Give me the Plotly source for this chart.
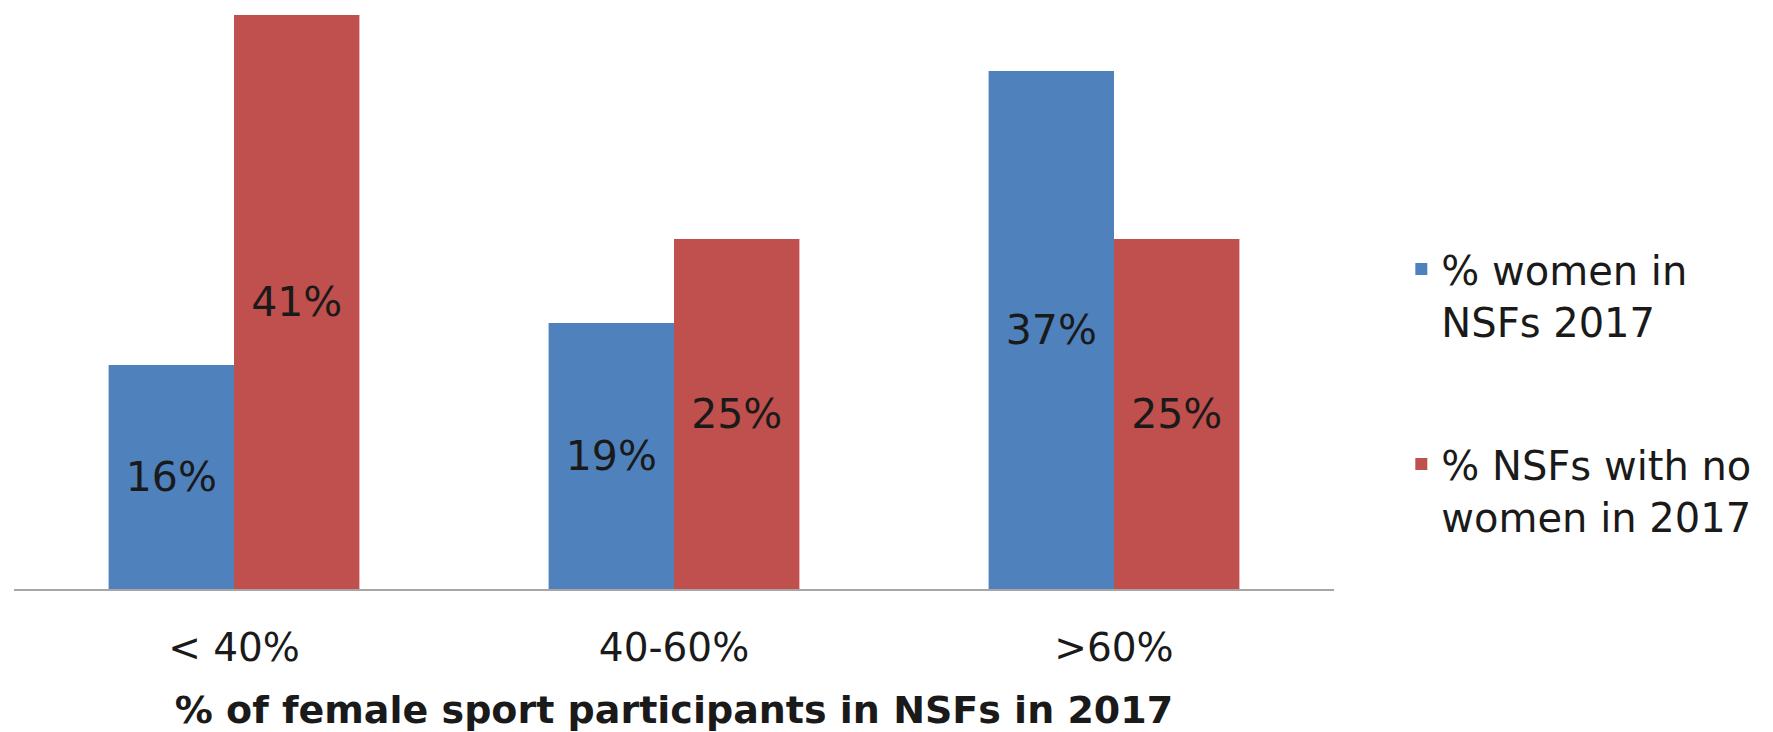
import plotly.graph_objects as go

categories = ["< 40%", "40-60%", ">60%"]
women_pct = [16, 19, 37]
no_women_pct = [41, 25, 25]
series_names = ["% women in<br>NSFs 2017", "% NSFs with no<br>women in 2017"]
x_title = "% of female sport participants in NSFs in 2017"

BLUE = "#4F81BD"
RED = "#C0504D"
FONT = "DejaVu Sans"

fig = go.Figure()
for name, vals, col, grp in [(series_names[0], women_pct, BLUE, "a"),
                             (series_names[1], no_women_pct, RED, "b")]:
    fig.add_trace(go.Bar(
        x=categories, y=vals, name=name, marker_color=col,
        marker_line_width=0, legendgroup=grp,
        texttemplate="%{y}%", textposition="inside",
        insidetextanchor="middle", textangle=0,
        textfont=dict(family=FONT, size=41, color="#1a1a1a"),
    ))

fig.update_layout(
    width=1765, height=724,
    margin=dict(l=6, r=439, t=7, b=143, autoexpand=False),
    paper_bgcolor="white", plot_bgcolor="white",
    barmode="group", bargap=0.43, bargroupgap=0,
    font=dict(family=FONT, color="#1a1a1a"),
    showlegend=True,
    legend=dict(
        x=1.051, xanchor="left", y=0.614, yanchor="top",
        font=dict(family=FONT, size=40, color="#1a1a1a"),
        tracegroupgap=88, valign="top",
        bgcolor="rgba(0,0,0,0)",
    ),
    xaxis=dict(
        showline=True, linecolor="#A6A6A6", linewidth=2,
        ticks="", showgrid=False, zeroline=False, automargin=False,
        tickfont=dict(family=FONT, size=39, color="#1a1a1a"),
        ticklabelstandoff=23,
        title=dict(text="<b>" + x_title + "</b>",
                   font=dict(family=FONT, size=38, color="#1a1a1a"),
                   standoff=33),
    ),
    yaxis=dict(range=[0, 41], showticklabels=False, showgrid=False,
               zeroline=False, showline=False, ticks="", automargin=False),
)

fig.write_html("out.html")
